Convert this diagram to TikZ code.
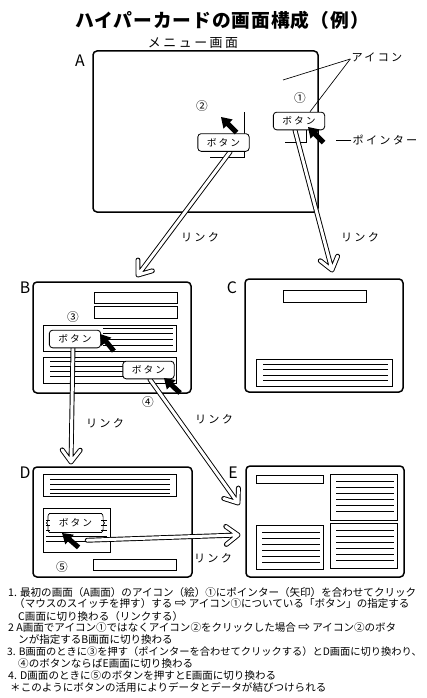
\documentclass[tikz,border=0pt]{standalone}
\usepackage{fontspec}
\setmainfont{Noto Sans CJK JP}
\newfontfamily\jpsp[LetterSpace=20]{Noto Sans CJK JP}
\newfontfamily\jpttl[LetterSpace=5]{Noto Sans CJK JP}
\newfontfamily\arrfont{DejaVu Sans}
\usepackage{tikz}
\usetikzlibrary{calc,backgrounds,decorations.pathreplacing}
\tikzset{
  scr/.style={draw,line width=0.45mm,rounded corners=1.2mm},
  pnl/.style={draw,line width=0.25mm},
  hl/.style={line width=0.2mm},
  btn/.style={draw,fill=white,line width=0.25mm,rounded corners=1mm,inner sep=0pt,
              minimum width=15.4mm,minimum height=5.3mm,
              font=\jpsp\fontsize{8.3}{9}\selectfont},
  btnb/.style={btn,draw=none,rounded corners=0pt},
  lnk/.style={draw=black,double=white,double distance=0.9mm,line width=0.28mm,
              line join=round,line cap=round},
  lbl/.style={inner sep=1pt,font=\jpsp\fontsize{9.5}{10}\selectfont},
  scrlbl/.style={inner sep=0pt,font=\fontsize{13.5}{14}\selectfont},
  numlbl/.style={inner sep=0pt,font=\fontsize{10}{11}\selectfont},
  captxt/.style={anchor=west,inner sep=0pt,font=\fontsize{9}{10}\selectfont},
  ptr/.pic={\fill (0,0) -- (10,6.5) -- (10,2.5) -- (22,2.5) -- (22,-2.5)
                  -- (10,-2.5) -- (10,-6.5) -- cycle;},
}
\newcommand\wharr{{\arrfont\fontsize{12}{10}\selectfont ⇨}}

\begin{document}
\begin{tikzpicture}[x=0.3mm,y=-0.3mm]
\useasboundingbox (0,0) rectangle (426,698);

% title
\node[font=\jpttl\bfseries\fontsize{16}{18}\selectfont] (ttl) at (222,20)
  {ハイパーカードの画面構成（例）};
\node[font=\jpsp\fontsize{11}{12}\selectfont] (menu) at (193,43) {メニュー画面};

% screens
\begin{scope}[on background layer]
% A
\draw[scr] (93,51) rectangle (318,212);
\draw[hl] (244,112) -- (244,157) -- (210,157);
\draw[hl] (306,130) -- (306,142) -- (285,142);
% B
\draw[scr] (33,282) rectangle (191,393);
\draw[pnl] (94,292) rectangle (177,303);
\draw[pnl] (94,306) rectangle (177,318);
\draw[pnl] (43,325) rectangle (176,351);
\foreach \y in {328,333,339,345} \draw[hl] (103,\y) -- (173,\y);
\draw[pnl] (43,357) rectangle (176,383);
\foreach \y in {361,366,371,376} \draw[hl] (50,\y) -- (170,\y);
% C
\draw[scr] (245,279) rectangle (403,392);
\draw[pnl] (283,290) rectangle (366,302);
\draw[pnl] (256,359) rectangle (392,386);
\foreach \y in {364,369,375,380} \draw[hl] (263,\y) -- (388,\y);
% D
\draw[scr] (33,467) rectangle (192,577);
\draw[pnl] (43,474) rectangle (176,496);
\foreach \y in {479,484,489,493} \draw[hl] (50,\y) -- (170,\y);
\draw[pnl] (43,508) rectangle (110,552);
\foreach \y in {520,525,530,536,541} \draw[hl] (46,\y) -- (107,\y);
\draw[pnl] (93,559) rectangle (176,570);
% E
\draw[scr] (246,466) rectangle (404,577);
\draw[pnl] (256,475) rectangle (323,483);
\draw[pnl] (330,474) rectangle (397,520);
\foreach \y in {481,487,493,499,505,511} \draw[hl] (336,\y) -- (394,\y);
\draw[pnl] (256,525) rectangle (323,569);
\foreach \y in {532,538,544,550,556,562} \draw[hl] (262,\y) -- (320,\y);
\draw[pnl] (330,523) rectangle (397,568);
\foreach \y in {530,536,542,548,554,560} \draw[hl] (336,\y) -- (394,\y);
\end{scope}

% screen letters
\node[scrlbl] (la) at (80,61) {A};
\node[scrlbl] (lb) at (25,288) {B};
\node[scrlbl] (lc) at (232,288) {C};
\node[scrlbl] (ld) at (25,473) {D};
\node[scrlbl] (le) at (233,473) {E};

% buttons
\node[btn] (a1btn) at (299,121) {ボタン};
\node[btn] (a2btn) at (223.5,142.5) {ボタン};
\node[btn] (b3btn) at (75,339) {ボタン};
\node[btn] (b4btn) at (148.5,370) {ボタン};
\node[btnb] (d5btn) at (75.5,523) {ボタン};
\draw[hl] (d5btn.north west) -- (d5btn.north east)
          (d5btn.south west) -- (d5btn.south east);
\draw[hl,decorate,decoration={brace,amplitude=0.9mm}]
  (d5btn.south west) -- (d5btn.north west);
\draw[hl,decorate,decoration={brace,amplitude=0.9mm}]
  (d5btn.north east) -- (d5btn.south east);

% circled numbers
\node[numlbl] (n1) at (300,98) {①};
\node[numlbl] (n2) at (202,106) {②};
\node[numlbl] (n3) at (73,317) {③};
\node[numlbl] (n4) at (148,402) {④};
\node[numlbl] (n5) at (62,567) {⑤};

% pointers
\pic[rotate=-45] at (308,127) {ptr};
\pic[rotate=-45] at (221,117) {ptr};
\pic[rotate=-51] at (100,334) {ptr};
\pic[rotate=-43] at (164,378) {ptr};
\pic[rotate=-41] at (62,533) {ptr};

% callouts
\node[lbl] (icn) at (377,57) {アイコン};
\coordinate (icnpic) at (283,80);
\draw[hl] ([yshift=-0.6mm]icn.west) -- (icnpic);
\draw[hl] ([yshift=-0.6mm]icn.west) -- ([xshift=3.3mm]a1btn.north);
\node[lbl] (ptl) at (385,140) {ポインター};
\draw[hl] (ptl.west) -- ++(-15,0);

% links
\coordinate (a2out) at ([xshift=2mm]a2btn.south);
\coordinate (a1out) at ([xshift=-1.2mm]a1btn.south);
\coordinate (b3out) at ([xshift=-0.6mm]b3btn.south);
\coordinate (b4out) at ([xshift=0.4mm]b4btn.south);
\coordinate (d5out) at ([shift={(3.5mm,-2.4mm)}]d5btn.south);
\coordinate (bin) at (138,275);
\coordinate (cin) at (332,270);
\coordinate (din) at (71,462);
\coordinate (ein) at (238,503);
\coordinate (eside) at (238,535);
\begin{scope}[on background layer]
\foreach \s/\t in {a2out/bin,a1out/cin,b3out/din,b4out/ein,d5out/eside}
  \draw[lnk] (\s) -- (\t) ($(\t)!4.5mm!37:(\s)$) -- (\t) -- ($(\t)!4.5mm!-37:(\s)$);
\end{scope}
\node[lbl] (lk1) at (200,237) {リンク};
\node[lbl] (lk2) at (360,237) {リンク};
\node[lbl] (lk3) at (105,423) {リンク};
\node[lbl] (lk4) at (214,419) {リンク};
\node[lbl] (lk5) at (213,558) {リンク};

% caption
\node[captxt] (c1) at (8,592) {1. 最初の画面（A画面）のアイコン（絵）①にポインター（矢印）を合わせてクリック};
\node[captxt] (c2) at (14,603) {（マウスのスイッチを押す）する \wharr{} アイコン①についている「ボタン」の指定する};
\node[captxt] (c3) at (18,616) {C画面に切り換わる（リンクする）};
\node[captxt] (c4) at (8,627) {2 A画面でアイコン①ではなくアイコン②をクリックした場合 \wharr{} アイコン②のボタ};
\node[captxt] (c5) at (18,639) {ンが指定するB画面に切り換わる};
\node[captxt,font=\fontsize{8.75}{10}\selectfont] (c6) at (7,652) {3. B画面のときに③を押す（ポインターを合わせてクリックする）とD画面に切り換わり、};
\node[captxt] (c7) at (18,663) {④のボタンならばE画面に切り換わる};
\node[captxt] (c8) at (8,675) {4. D画面のときに⑤のボタンを押すとE画面に切り換わる};
\node[captxt] (c9) at (10,687) {＊このようにボタンの活用によりデータとデータが結びつけられる};
\end{tikzpicture}
\end{document}
